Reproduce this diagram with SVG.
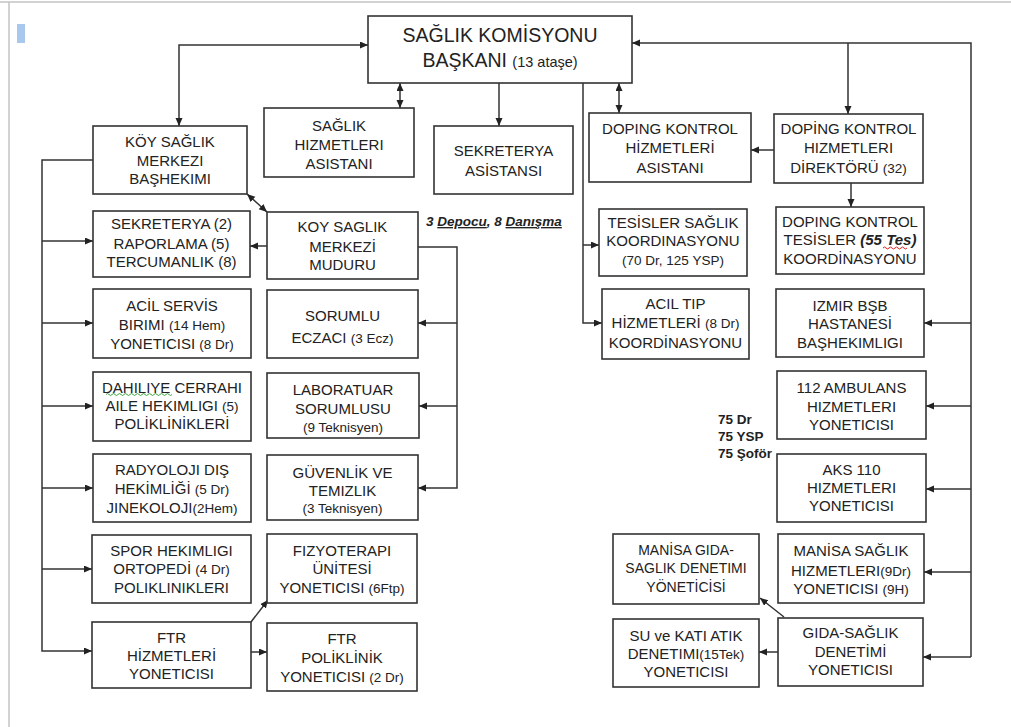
<svg xmlns="http://www.w3.org/2000/svg" width="1011" height="727" viewBox="0 0 1011 727">
<style>
.box{fill:#fff;stroke:#333;stroke-width:1.6}
.t{font-family:"Liberation Sans",Arial,sans-serif;font-size:15px;fill:#222;text-anchor:middle}
.s{font-size:13.5px}
.c{fill:none;stroke:#333;stroke-width:1.5}
.n{font-family:"Liberation Sans",Arial,sans-serif;font-size:13.5px;font-weight:bold;fill:#222}
</style>
<defs>
<marker id="a" markerUnits="userSpaceOnUse" markerWidth="9" markerHeight="8" refX="8" refY="3.5" orient="auto-start-reverse"><path d="M0,0 L8,3.5 L0,7 z" fill="#222"/></marker>
</defs>
<rect width="1011" height="727" fill="#fff"/>
<g id="frame"><path d="M0,2 H1011 M9,2 V727" fill="none" stroke="#c4c4c4" stroke-width="1.5"/><rect x="17" y="24" width="8" height="19" fill="#a9c8ee"/></g>

<g id="connectors" class="c">
<path d="M179,126 V45 H368" marker-start="url(#a)" marker-end="url(#a)"/>
<path d="M400,83 V108" marker-start="url(#a)" marker-end="url(#a)"/>
<path d="M499,83 V126" marker-end="url(#a)"/>
<path d="M583,83 V323 H602" marker-end="url(#a)"/>
<path d="M583,245 H599" marker-end="url(#a)"/>
<path d="M619,83 V113" marker-start="url(#a)" marker-end="url(#a)"/>
<path d="M971,657 V43 H632" marker-end="url(#a)"/>
<path d="M848,43 V114" marker-end="url(#a)"/>
<path d="M971,323 H924" marker-end="url(#a)"/>
<path d="M971,406 H926" marker-end="url(#a)"/>
<path d="M971,489 H926" marker-end="url(#a)"/>
<path d="M971,572 H924" marker-end="url(#a)"/>
<path d="M971,657 H923" marker-end="url(#a)"/>
<path d="M774,150 H751" marker-end="url(#a)"/>
<path d="M851,183 V207" marker-end="url(#a)"/>
<path d="M93,160 H42 V651 H92" marker-end="url(#a)"/>
<path d="M42,241 H93" marker-end="url(#a)"/>
<path d="M42,323 H93" marker-end="url(#a)"/>
<path d="M42,406 H93" marker-end="url(#a)"/>
<path d="M42,488 H93" marker-end="url(#a)"/>
<path d="M42,569 H92" marker-end="url(#a)"/>
<path d="M247,194 L267,212" marker-start="url(#a)" marker-end="url(#a)"/>
<path d="M267,246 H250" marker-end="url(#a)"/>
<path d="M418,247 H457 V488 H418" marker-end="url(#a)"/>
<path d="M457,323 H418" marker-end="url(#a)"/>
<path d="M457,406 H419" marker-end="url(#a)"/>
<path d="M251,622 L268,600" marker-end="url(#a)"/>
<path d="M251,652 H267" marker-end="url(#a)"/>
<path d="M784,617 L760,598" marker-end="url(#a)"/>
<path d="M778,652 H759" marker-end="url(#a)"/>
</g>

<g id="main"><rect class="box" x="368" y="16" width="264" height="67"/>
<text class="t" style="font-size:19.5px"><tspan x="500" y="42">SAĞLIK KOMİSYONU</tspan><tspan x="500" y="67">BAŞKANI <tspan style="font-size:14.5px">(13 ataşe)</tspan></tspan></text></g>

<g id="koy-bashekim"><rect class="box" x="93" y="126" width="154" height="68"/>
<text class="t"><tspan x="170" y="146.5">KÖY SAĞLIK</tspan><tspan x="170" y="165.5">MERKEZI</tspan><tspan x="170" y="184">BAŞHEKIMI</tspan></text></g>

<g id="saglik-asistan"><rect class="box" x="264" y="108" width="150" height="69"/>
<text class="t"><tspan x="339" y="130.5">SAĞLIK</tspan><tspan x="339" y="149.5">HIZMETLERI</tspan><tspan x="339" y="168.5">ASISTANI</tspan></text></g>

<g id="sekreterya-asistan"><rect class="box" x="434" y="126" width="139" height="68"/>
<text class="t"><tspan x="503.5" y="155.5">SEKRETERYA</tspan><tspan x="503.5" y="175.5">ASİSTANSI</tspan></text></g>

<g id="doping-asistan"><rect class="box" x="589" y="113" width="162" height="69"/>
<text class="t"><tspan x="670" y="133.5">DOPING KONTROL</tspan><tspan x="670" y="153">HİZMETLERİ</tspan><tspan x="670" y="172.5">ASISTANI</tspan></text></g>

<g id="doping-direktor"><rect class="box" x="774" y="114" width="149" height="69"/>
<text class="t"><tspan x="848.5" y="133.5">DOPİNG KONTROL</tspan><tspan x="848.5" y="153">HIZMETLERI</tspan><tspan x="848.5" y="172.5">DİREKTÖRÜ <tspan class="s">(32)</tspan></tspan></text></g>

<g id="doping-tesisler"><rect class="box" x="776" y="207" width="148" height="67"/>
<text class="t"><tspan x="850" y="226.5">DOPING KONTROL</tspan><tspan x="850" y="245">TESİSLER <tspan style="font-weight:bold;font-style:italic">(55 Tes)</tspan></tspan><tspan x="850" y="263.5">KOORDİNASYONU</tspan></text>
<path d="M883,248 q1.5,-2 3,0 t3,0 t3,0 t3,0 t3,0 t3,0 t3,0 t3,0" fill="none" stroke="#e02020" stroke-width="1"/></g>

<g id="tesisler-saglik"><rect class="box" x="599" y="209" width="148" height="67"/>
<text class="t"><tspan x="673" y="227.5">TESİSLER SAĞLIK</tspan><tspan x="673" y="245.5">KOORDINASYONU</tspan><tspan x="673" y="265" class="s">(70 Dr, 125 YSP)</tspan></text></g>

<g id="acil-tip"><rect class="box" x="602" y="289" width="147" height="70"/>
<text class="t"><tspan x="675.5" y="308.5">ACIL TIP</tspan><tspan x="675.5" y="328">HİZMETLERİ <tspan class="s">(8 Dr)</tspan></tspan><tspan x="675.5" y="347.5">KOORDİNASYONU</tspan></text></g>

<g id="izmir"><rect class="box" x="776" y="289" width="148" height="68"/>
<text class="t"><tspan x="850" y="310.5">IZMIR BŞB</tspan><tspan x="850" y="328.5">HASTANESİ</tspan><tspan x="850" y="347.5">BAŞHEKIMLIGI</tspan></text></g>

<g id="ambulans"><rect class="box" x="777" y="371" width="149" height="68"/>
<text class="t"><tspan x="851.5" y="392.5">112 AMBULANS</tspan><tspan x="851.5" y="411.5">HIZMETLERI</tspan><tspan x="851.5" y="429.5">YONETICISI</tspan></text></g>

<g id="aks"><rect class="box" x="777" y="454" width="149" height="68"/>
<text class="t"><tspan x="851.5" y="474.5">AKS 110</tspan><tspan x="851.5" y="492.5">HIZMETLERI</tspan><tspan x="851.5" y="510.5">YONETICISI</tspan></text></g>

<g id="manisa-saglik"><rect class="box" x="778" y="534" width="146" height="69"/>
<text class="t"><tspan x="851" y="555.5">MANİSA SAĞLIK</tspan><tspan x="851" y="576">HIZMETLERI<tspan class="s">(9Dr)</tspan></tspan><tspan x="851" y="593.5">YONETICISI <tspan class="s">(9H)</tspan></tspan></text></g>

<g id="gida"><rect class="box" x="778" y="618" width="145" height="68"/>
<text class="t"><tspan x="850.5" y="637.5">GIDA-SAĞLIK</tspan><tspan x="850.5" y="656.5">DENETİMİ</tspan><tspan x="850.5" y="674.5">YONETICISI</tspan></text></g>

<g id="manisa-gida"><rect class="box" x="613" y="534" width="146" height="70"/>
<text class="t" style="font-size:14px"><tspan x="686" y="555">MANİSA GIDA-</tspan><tspan x="686" y="573">SAGLIK DENETIMI</tspan><tspan x="686" y="592">YÖNETİCİSİ</tspan></text></g>

<g id="su-atik"><rect class="box" x="613" y="619" width="146" height="68"/>
<text class="t"><tspan x="686" y="640.5">SU ve KATI ATIK</tspan><tspan x="686" y="658.5">DENETIMI<tspan class="s">(15Tek)</tspan></tspan><tspan x="686" y="676.5">YONETICISI</tspan></text></g>

<g id="sekreterya"><rect class="box" x="93" y="211" width="157" height="66"/>
<text class="t"><tspan x="171.5" y="228.5">SEKRETERYA (2)</tspan><tspan x="171.5" y="248.5">RAPORLAMA (5)</tspan><tspan x="171.5" y="266.5">TERCUMANLIK (8)</tspan></text></g>

<g id="acil-servis"><rect class="box" x="93" y="289" width="158" height="69"/>
<text class="t"><tspan x="172" y="310.5">ACİL SERVİS</tspan><tspan x="172" y="329.5">BIRIMI <tspan class="s">(14 Hem)</tspan></tspan><tspan x="172" y="348.5">YONETICISI <tspan class="s">(8 Dr)</tspan></tspan></text></g>

<g id="dahiliye"><rect class="box" x="93" y="372" width="158" height="69"/>
<text class="t"><tspan x="172" y="392.5">DAHILIYE CERRAHI</tspan><tspan x="172" y="410.5">AILE HEKIMLIGI <tspan class="s">(5)</tspan></tspan><tspan x="172" y="428.5">POLİKLİNİKLERİ</tspan></text>
<path d="M106,394.5 q1.5,-2 3,0 t3,0 t3,0 t3,0 t3,0 t3,0 t3,0 t3,0 t3,0 t3,0 t3,0 t3,0 t3,0 t3,0 t3,0 t3,0 t3,0 t3,0 t3,0 t3,0 t3,0 t3,0" fill="none" stroke="#3aa83a" stroke-width="1"/></g>

<g id="radyoloji"><rect class="box" x="93" y="454" width="158" height="68"/>
<text class="t"><tspan x="172" y="474.5">RADYOLOJI DIŞ</tspan><tspan x="172" y="493.5">HEKİMLİĞİ <tspan class="s">(5 Dr)</tspan></tspan><tspan x="172" y="512.5">JINEKOLOJI<tspan class="s">(2Hem)</tspan></tspan></text></g>

<g id="spor"><rect class="box" x="92" y="535" width="159" height="68"/>
<text class="t"><tspan x="171.5" y="555.5">SPOR HEKIMLIGI</tspan><tspan x="171.5" y="573.5">ORTOPEDİ <tspan class="s">(4 Dr)</tspan></tspan><tspan x="171.5" y="592.5">POLIKLINIKLERI</tspan></text></g>

<g id="ftr"><rect class="box" x="92" y="622" width="159" height="66"/>
<text class="t"><tspan x="171.5" y="642.5">FTR</tspan><tspan x="171.5" y="660.5">HİZMETLERİ</tspan><tspan x="171.5" y="678.5">YONETICISI</tspan></text></g>

<g id="mudur"><rect class="box" x="267" y="212" width="151" height="67"/>
<text class="t"><tspan x="342.5" y="231.5">KOY SAGLIK</tspan><tspan x="342.5" y="251.5">MERKEZİ</tspan><tspan x="342.5" y="269.5">MUDURU</tspan></text></g>

<g id="eczaci"><rect class="box" x="267" y="290" width="151" height="68"/>
<text class="t"><tspan x="342.5" y="320.5">SORUMLU</tspan><tspan x="342.5" y="342.5">ECZACI <tspan class="s">(3 Ecz)</tspan></tspan></text></g>

<g id="laboratuar"><rect class="box" x="267" y="373" width="152" height="65"/>
<text class="t"><tspan x="343" y="394.5">LABORATUAR</tspan><tspan x="343" y="413.5">SORUMLUSU</tspan><tspan x="343" y="432" class="s">(9 Teknisyen)</tspan></text></g>

<g id="guvenlik"><rect class="box" x="267" y="455" width="151" height="65"/>
<text class="t"><tspan x="342.5" y="477.5">GÜVENLİK VE</tspan><tspan x="342.5" y="495.5">TEMIZLIK</tspan><tspan x="342.5" y="513" class="s">(3 Teknisyen)</tspan></text></g>

<g id="fizyoterapi"><rect class="box" x="267" y="534" width="150" height="69"/>
<text class="t"><tspan x="342" y="555.5">FIZYOTERAPI</tspan><tspan x="342" y="573.5">ÜNİTESİ</tspan><tspan x="342" y="592.5">YONETICISI <tspan class="s">(6Ftp)</tspan></tspan></text></g>

<g id="ftr-poliklinik"><rect class="box" x="267" y="623" width="150" height="68"/>
<text class="t"><tspan x="342" y="643.5">FTR</tspan><tspan x="342" y="662.5">POLİKLİNİK</tspan><tspan x="342" y="682">YONETICISI <tspan class="s">(2 Dr)</tspan></tspan></text></g>

<g id="notes">
<text class="n" x="426" y="226" style="font-style:italic">3 <tspan style="text-decoration:underline">Depocu</tspan>, 8 <tspan style="text-decoration:underline">Danışma</tspan></text>
<text class="n" x="718" y="424">75 Dr</text>
<text class="n" x="718" y="441">75 YSP</text>
<text class="n" x="718" y="458">75 Şoför</text>
</g>
</svg>
